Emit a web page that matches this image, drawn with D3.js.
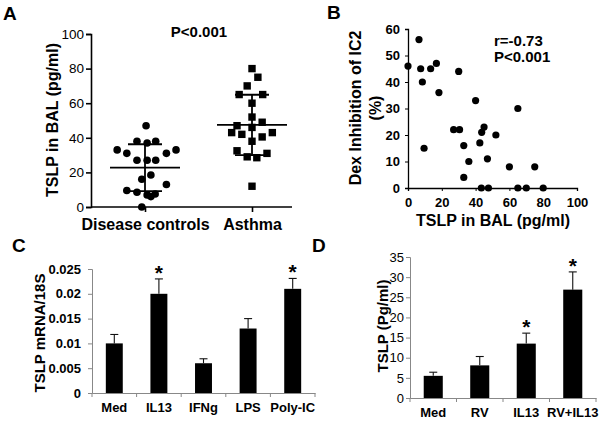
<!DOCTYPE html>
<html><head><meta charset="utf-8">
<script src="https://cdn.jsdelivr.net/npm/d3@7"></script>
<style>
body{margin:0;background:#fff;}
svg{display:block;font-family:"Liberation Sans",Arial,sans-serif;}
</style></head><body>
<svg id="chart" width="604" height="424"></svg>
<script>
// ---------- Panel A data ----------
const groupsA = ["Disease controls", "Asthma"];
const controlsValues = [47, 38, 38, 37, 33, 33, 31, 31, 27, 27, 27, 18.5, 16, 13, 9.5, 8.5, 7, 6, 7.5, 0];
// horizontal spread of the scatter, in units of the distance between the two groups
const controlsJitter = [0.01, -0.075, 0.10, 0.02, -0.26, 0.29, -0.17, 0.20, -0.075, 0.02, 0.10, 0.055, -0.03, 0.20, -0.17, -0.075, 0.02, 0.055, 0.095, -0.03];
const asthmaValues = [80, 75, 70, 65, 65, 60, 52, 49, 47, 46, 43, 42, 43, 40.5, 38, 32.5, 29, 28.5, 31, 12];
const asthmaJitter = [0, 0.055, -0.045, -0.12, 0.10, 0, 0, 0.095, -0.14, 0, -0.19, -0.095, 0.19, 0.095, 0, -0.14, -0.045, 0.045, 0.14, 0];
const ticksA = [0, 20, 40, 60, 80, 100];

// ---------- Panel B data ----------
const tslpB = [0, 6.5, 7.5, 13.4, 16.8, 8.5, 18.3, 30, 40, 9.5, 27, 30.5, 45, 43.6, 52, 33, 42.5, 36, 47, 33, 43.4, 47.6, 65, 60, 75, 65, 70, 80];
const dexB  = [46, 56, 45, 45, 47, 40, 36, 44, 33, 15, 22, 22, 23, 21, 20, 16, 17, 10, 11, 4, 0, 0, 30, 8, 8, 0, 0, 0];
const ticksBx = [0, 20, 40, 60, 80, 100];
const ticksBy = [0, 10, 20, 30, 40, 50, 60];

// ---------- Panel C data ----------
const catsC = ["Med", "IL13", "IFNg", "LPS", "Poly-IC"];
const meansC = [0.010, 0.020, 0.006, 0.013, 0.021];
const errsC = [0.0018, 0.003, 0.0009, 0.002, 0.0021];
const sigC = [false, true, false, false, true];
const ticksC = [0, 0.005, 0.01, 0.015, 0.02, 0.025];

// ---------- Panel D data ----------
const catsD = ["Med", "RV", "IL13", "RV+IL13"];
const meansD = [5.5, 8.1, 13.5, 26.9];
const errsD = [0.9, 2.2, 2.6, 4.4];
const sigD = [false, false, true, true];
const ticksD = [0, 5, 10, 15, 20, 25, 30, 35];

const svg = d3.select("#chart");
const BOLD = "bold";

function panelLabel(t, x, y) {
  svg.append("text").attr("x", x).attr("y", y).attr("font-size", 19).attr("font-weight", BOLD).text(t);
}

// =============== Panel A ===============
(function () {
  const g = svg.append("g");
  const y = d3.scaleLinear().domain([0, 100]).range([207, 34]);
  const x = d3.scalePoint().domain(groupsA).range([145, 252]);
  const spread = x.step();
  const xEnd = 292;

  const ya = g.append("g").attr("transform", "translate(91,0)")
    .call(d3.axisLeft(y).tickValues(ticksA).tickSize(5).tickPadding(2));
  ya.select(".domain").attr("stroke-width", 1.6);
  ya.selectAll(".tick line").attr("stroke-width", 1.6);
  ya.selectAll("text").attr("font-size", 13.5).attr("fill", "#000");

  const xa = g.append("g").attr("transform", "translate(0,207)")
    .call(d3.axisBottom(x).tickSize(5).tickPadding(7));
  xa.select(".domain").remove();
  xa.selectAll(".tick line").attr("stroke-width", 1.6);
  xa.selectAll("text").attr("font-size", 16).attr("font-weight", BOLD).attr("fill", "#000");
  g.append("line").attr("x1", 91).attr("x2", xEnd).attr("y1", 207).attr("y2", 207)
    .attr("stroke", "#000").attr("stroke-width", 1.6);

  // controls: circles
  g.selectAll("circle.ctl").data(controlsValues).join("circle")
    .attr("cx", (d, i) => x(groupsA[0]) + controlsJitter[i] * spread)
    .attr("cy", d => y(d)).attr("r", 3.8).attr("fill", "#000");
  // asthma: squares
  const s = 7.4;
  g.selectAll("rect.ast").data(asthmaValues).join("rect")
    .attr("x", (d, i) => x(groupsA[1]) + asthmaJitter[i] * spread - s / 2)
    .attr("y", d => y(d) - s / 2).attr("width", s).attr("height", s).attr("fill", "#000");

  // mean +/- SD
  [controlsValues, asthmaValues].forEach((vals, i) => {
    const cx = x(groupsA[i]);
    const m = d3.mean(vals), sd = d3.deviation(vals);
    const lg = g.append("g").attr("stroke", "#000").attr("stroke-width", 1.8);
    lg.append("line").attr("x1", cx - 35).attr("x2", cx + 35).attr("y1", y(m)).attr("y2", y(m));
    lg.append("line").attr("x1", cx).attr("x2", cx).attr("y1", y(m + sd)).attr("y2", y(m - sd));
    lg.append("line").attr("x1", cx - 17).attr("x2", cx + 17).attr("y1", y(m + sd)).attr("y2", y(m + sd));
    lg.append("line").attr("x1", cx - 17).attr("x2", cx + 17).attr("y1", y(m - sd)).attr("y2", y(m - sd));
  });

  g.append("text").attr("transform", "translate(58,120) rotate(-90)").attr("text-anchor", "middle")
    .attr("font-size", 16).attr("font-weight", BOLD).text("TSLP in BAL (pg/ml)");
  g.append("text").attr("x", 199).attr("y", 37).attr("text-anchor", "middle")
    .attr("font-size", 15).attr("font-weight", BOLD).text("P<0.001");
  panelLabel("A", 3, 20);
})();

// =============== Panel B ===============
(function () {
  const g = svg.append("g");
  const x = d3.scaleLinear().domain([0, 100]).range([408, 577]);
  const y = d3.scaleLinear().domain([0, 60]).range([188, 29]);

  const xa = g.append("g").attr("transform", "translate(0,188)")
    .call(d3.axisBottom(x).tickValues(ticksBx).tickSize(3).tickPadding(7));
  const ya = g.append("g").attr("transform", "translate(408,0)")
    .call(d3.axisLeft(y).tickValues(ticksBy).tickSize(3).tickPadding(5));
  [xa, ya].forEach(a => {
    a.select(".domain").attr("stroke-width", 1.3);
    a.selectAll("text").attr("font-size", 13).attr("font-weight", BOLD).attr("fill", "#000");
  });

  g.selectAll("circle").data(tslpB).join("circle")
    .attr("cx", d => x(d)).attr("cy", (d, i) => y(dexB[i])).attr("r", 3.6).attr("fill", "#000");

  g.append("text").attr("x", 494).attr("y", 46).attr("font-size", 15).attr("font-weight", BOLD).text("r=-0.73");
  g.append("text").attr("x", 494).attr("y", 62).attr("font-size", 15).attr("font-weight", BOLD).text("P<0.001");
  g.append("text").attr("transform", "translate(361,108) rotate(-90)").attr("text-anchor", "middle")
    .attr("font-size", 16).attr("font-weight", BOLD).text("Dex Inhibition of IC2");
  g.append("text").attr("transform", "translate(381,108) rotate(-90)").attr("text-anchor", "middle")
    .attr("font-size", 16).attr("font-weight", BOLD).text("(%)");
  g.append("text").attr("x", 493).attr("y", 226).attr("text-anchor", "middle")
    .attr("font-size", 16).attr("font-weight", BOLD).text("TSLP in BAL (pg/ml)");
  panelLabel("B", 327, 19);
})();

// =============== bar panels (C, D) ===============
function barPanel(opt) {
  const g = svg.append("g");
  const x = d3.scaleBand().domain(opt.cats).range(opt.xr).paddingInner(opt.pad).paddingOuter(opt.pad / 2);
  const y = d3.scaleLinear().domain(opt.ydom).range(opt.yr);
  const axisCol = "#888";

  const ya = g.append("g").attr("transform", `translate(${opt.xr[0]},0)`)
    .call(d3.axisLeft(y).tickValues(opt.ticks).tickSize(4).tickPadding(opt.tickPad).tickFormat(opt.fmt));
  ya.select(".domain").attr("stroke", axisCol);
  ya.selectAll(".tick line").attr("stroke", axisCol);
  ya.selectAll("text").attr("font-size", opt.tickFont).attr("font-weight", opt.tickWeight).attr("fill", "#000");

  const xa = g.append("g").attr("transform", `translate(0,${opt.yr[0]})`)
    .call(d3.axisBottom(x).tickSize(0).tickPadding(opt.xLabPad));
  xa.select(".domain").attr("stroke", axisCol);
  xa.selectAll("text").attr("font-size", 13).attr("font-weight", BOLD).attr("fill", "#000");
  // category separators
  const step = x.step();
  const seps = d3.range(opt.cats.length + 1).map(i => opt.xr[0] + i * step);
  g.selectAll("line.sep").data(seps).join("line").attr("class", "sep")
    .attr("x1", d => d).attr("x2", d => d).attr("y1", opt.yr[0]).attr("y2", opt.yr[0] + 4)
    .attr("stroke", axisCol);

  g.selectAll("rect.bar").data(opt.means).join("rect").attr("class", "bar")
    .attr("x", (d, i) => x(opt.cats[i])).attr("width", x.bandwidth())
    .attr("y", d => y(d)).attr("height", d => y(0) - y(d)).attr("fill", "#000");

  const eg = g.append("g").attr("stroke", "#111").attr("stroke-width", 1.1);
  opt.means.forEach((m, i) => {
    const cx = x(opt.cats[i]) + x.bandwidth() / 2;
    const top = y(m + opt.errs[i]);
    eg.append("line").attr("x1", cx).attr("x2", cx).attr("y1", y(m)).attr("y2", top);
    eg.append("line").attr("x1", cx - 4).attr("x2", cx + 4).attr("y1", top).attr("y2", top);
    if (opt.sig[i]) {
      g.append("text").attr("x", cx).attr("y", top + 1).attr("text-anchor", "middle")
        .attr("font-size", 21).attr("font-weight", BOLD).text("*");
    }
  });

  g.append("text").attr("transform", `translate(${opt.ylabX},${opt.ylabY}) rotate(-90)`).attr("text-anchor", "middle")
    .attr("font-size", opt.ylabFont).attr("font-weight", BOLD).text(opt.ylab);
}

barPanel({
  cats: catsC, means: meansC, errs: errsC, sig: sigC, ticks: ticksC,
  xr: [92, 315], yr: [393, 269], ydom: [0, 0.025], pad: 0.62,
  tickPad: 7, tickFont: 13, tickWeight: BOLD, xLabPad: 10,
  fmt: d => d === 0 ? "0" : String(+d.toFixed(3)),
  ylab: "TSLP mRNA/18S", ylabX: 45, ylabY: 333, ylabFont: 15
});
panelLabel("C", 12, 252);

barPanel({
  cats: catsD, means: meansD, errs: errsD, sig: sigD, ticks: ticksD,
  xr: [410, 596], yr: [398, 257], ydom: [0, 35], pad: 0.59,
  tickPad: 2, tickFont: 13, tickWeight: "normal", xLabPad: 10,
  fmt: d3.format("d"),
  ylab: "TSLP (Pg/ml)", ylabX: 388, ylabY: 326, ylabFont: 15
});
panelLabel("D", 312, 252);
</script>
</body></html>
